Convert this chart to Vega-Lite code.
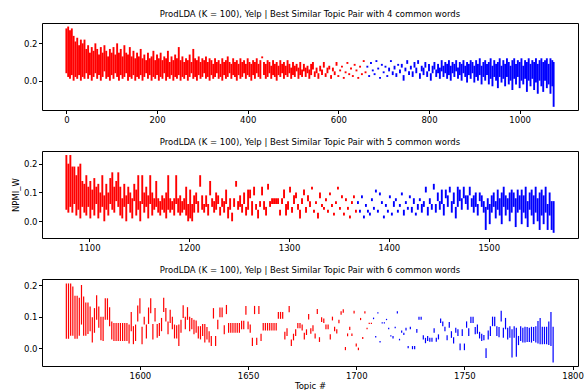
{"$schema":"https://vega.github.io/schema/vega-lite/v6.json","background":"white","padding":{"left":10,"top":9,"right":2,"bottom":0},
"config":{"font":"DejaVu Sans","view":{"stroke":"black","strokeWidth":1},"axis":{"domain":false,"grid":false,"tickColor":"black","labelColor":"black","titleColor":"black","labelFontSize":8.5,"titleFontSize":8.5,"titleFontWeight":"normal","tickSize":3.5,"labelPadding":1.5,"titlePadding":3,"labelFont":"DejaVu Sans","titleFont":"DejaVu Sans"},"title":{"fontSize":8.5,"fontWeight":"normal","font":"DejaVu Sans","color":"black","offset":5},"concat":{"spacing":13}},
"datasets":{"p1":[
{"x":0,"l":0.04,"h":0.28},{"x":4,"l":0.02,"h":0.29},{"x":8,"l":0.01,"h":0.27},{"x":12,"l":0.03,"h":0.28},{"x":16,"l":0.0,"h":0.24},{"x":20,"l":0.02,"h":0.21},{"x":24,"l":0.01,"h":0.23},{"x":28,"l":0.03,"h":0.19},{"x":32,"l":0.0,"h":0.22},{"x":36,"l":0.02,"h":0.2},{"x":40,"l":0.01,"h":0.22},{"x":44,"l":0.04,"h":0.17},{"x":48,"l":0.01,"h":0.19},{"x":52,"l":0.03,"h":0.15},{"x":56,"l":0.0,"h":0.18},{"x":60,"l":0.02,"h":0.16},{"x":64,"l":0.04,"h":0.2},{"x":68,"l":0.01,"h":0.17},{"x":72,"l":0.03,"h":0.14},{"x":76,"l":0.0,"h":0.18},{"x":80,"l":0.02,"h":0.15},{"x":84,"l":0.05,"h":0.19},{"x":88,"l":0.01,"h":0.16},{"x":92,"l":0.02,"h":0.13},{"x":96,"l":0.0,"h":0.17},{"x":100,"l":0.03,"h":0.15},{"x":104,"l":0.01,"h":0.18},{"x":108,"l":0.04,"h":0.14},{"x":112,"l":0.02,"h":0.2},{"x":116,"l":0.0,"h":0.15},{"x":120,"l":0.03,"h":0.17},{"x":124,"l":0.01,"h":0.13},{"x":128,"l":0.02,"h":0.19},{"x":132,"l":0.04,"h":0.15},{"x":136,"l":0.0,"h":0.14},{"x":140,"l":0.02,"h":0.18},{"x":144,"l":0.01,"h":0.13},{"x":148,"l":0.03,"h":0.16},{"x":152,"l":0.0,"h":0.12},{"x":156,"l":0.02,"h":0.15},{"x":160,"l":0.01,"h":0.13},{"x":164,"l":0.03,"h":0.17},{"x":168,"l":0.0,"h":0.12},{"x":172,"l":0.02,"h":0.14},{"x":176,"l":0.04,"h":0.11},{"x":180,"l":0.01,"h":0.15},{"x":184,"l":0.03,"h":0.12},{"x":188,"l":0.0,"h":0.13},{"x":192,"l":0.02,"h":0.16},{"x":196,"l":0.01,"h":0.11},{"x":200,"l":0.03,"h":0.14},{"x":204,"l":0.0,"h":0.12},{"x":208,"l":0.02,"h":0.15},{"x":212,"l":0.01,"h":0.11},{"x":216,"l":0.04,"h":0.13},{"x":220,"l":0.0,"h":0.12},{"x":224,"l":0.02,"h":0.16},{"x":228,"l":0.01,"h":0.1},{"x":232,"l":0.03,"h":0.13},{"x":236,"l":0.0,"h":0.11},{"x":240,"l":0.02,"h":0.14},{"x":244,"l":0.01,"h":0.12},{"x":248,"l":0.03,"h":0.18},{"x":252,"l":0.0,"h":0.11},{"x":256,"l":0.02,"h":0.13},{"x":260,"l":0.01,"h":0.1},{"x":264,"l":0.03,"h":0.12},{"x":268,"l":0.0,"h":0.11},{"x":272,"l":0.02,"h":0.14},{"x":276,"l":0.04,"h":0.1},{"x":280,"l":0.01,"h":0.17},{"x":284,"l":0.02,"h":0.12},{"x":288,"l":0.0,"h":0.11},{"x":292,"l":0.03,"h":0.13},{"x":296,"l":0.01,"h":0.1},{"x":300,"l":0.02,"h":0.12},{"x":304,"l":0.04,"h":0.11},{"x":308,"l":0.01,"h":0.13},{"x":312,"l":0.02,"h":0.1},{"x":316,"l":0.0,"h":0.12},{"x":320,"l":0.03,"h":0.11},{"x":324,"l":0.01,"h":0.09},{"x":328,"l":0.02,"h":0.12},{"x":332,"l":0.04,"h":0.1},{"x":336,"l":0.01,"h":0.11},{"x":340,"l":0.02,"h":0.09},{"x":344,"l":0.0,"h":0.12},{"x":348,"l":0.03,"h":0.1},{"x":352,"l":0.01,"h":0.11},{"x":356,"l":0.02,"h":0.13},{"x":360,"l":0.04,"h":0.1},{"x":364,"l":0.01,"h":0.09},{"x":368,"l":0.03,"h":0.12},{"x":372,"l":0.02,"h":0.1},{"x":376,"l":0.0,"h":0.11},{"x":380,"l":0.03,"h":0.09},{"x":384,"l":0.01,"h":0.12},{"x":388,"l":0.02,"h":0.1},{"x":392,"l":0.04,"h":0.11},{"x":396,"l":0.01,"h":0.09},{"x":400,"l":0.03,"h":0.12},{"x":404,"l":0.02,"h":0.1},{"x":408,"l":0.0,"h":0.09},{"x":412,"l":0.03,"h":0.11},{"x":416,"l":0.01,"h":0.1},{"x":420,"l":0.04,"h":0.12},{"x":424,"l":0.02,"h":0.09},{"x":428,"l":0.01,"h":0.11},{"x":432,"l":0.12,"h":0.13},{"x":436,"l":0.03,"h":0.1},{"x":440,"l":0.01,"h":0.09},{"x":444,"l":0.02,"h":0.11},{"x":448,"l":0.04,"h":0.1},{"x":452,"l":0.01,"h":0.08},{"x":456,"l":0.03,"h":0.11},{"x":460,"l":0.02,"h":0.09},{"x":464,"l":0.0,"h":0.1},{"x":468,"l":0.03,"h":0.08},{"x":472,"l":0.02,"h":0.11},{"x":476,"l":0.04,"h":0.09},{"x":480,"l":0.01,"h":0.1},{"x":484,"l":0.03,"h":0.08},{"x":488,"l":0.02,"h":0.11},{"x":492,"l":0.04,"h":0.09},{"x":496,"l":0.01,"h":0.07},{"x":500,"l":0.03,"h":0.1},{"x":504,"l":0.02,"h":0.08},{"x":508,"l":0.05,"h":0.09},{"x":512,"l":0.01,"h":0.07},{"x":516,"l":0.03,"h":0.1},{"x":520,"l":0.02,"h":0.06},{"x":524,"l":0.05,"h":0.09},{"x":528,"l":0.02,"h":0.07},{"x":532,"l":0.04,"h":0.08},{"x":536,"l":0.01,"h":0.06},{"x":540,"l":0.03,"h":0.09},{"x":544,"l":0.06,"h":0.1},{"x":548,"l":0.02,"h":0.05},{"x":552,"l":0.04,"h":0.07},{"x":556,"l":0.01,"h":0.04},{"x":560,"l":0.05,"h":0.08},{"x":564,"l":0.03,"h":0.06},{"x":568,"l":0.07,"h":0.1},{"x":572,"l":0.02,"h":0.04},{"x":576,"l":0.04,"h":0.07},{"x":580,"l":0.06,"h":0.08},{"x":584,"l":0.01,"h":0.03},{"x":588,"l":0.05,"h":0.07},{"x":592,"l":0.03,"h":0.05},{"x":596,"l":0.08,"h":0.1},{"x":600,"l":0.02,"h":0.03},{"x":604,"l":0.05,"h":0.06},{"x":608,"l":0.07,"h":0.08},{"x":612,"l":0.01,"h":0.02},{"x":616,"l":0.04,"h":0.05},{"x":620,"l":0.09,"h":0.1},{"x":624,"l":0.03,"h":0.04},{"x":628,"l":0.06,"h":0.07},{"x":632,"l":0.02,"h":0.03},{"x":636,"l":0.08,"h":0.09},{"x":640,"l":0.05,"h":0.06},{"x":644,"l":0.01,"h":0.02},{"x":648,"l":0.07,"h":0.08},{"x":652,"l":0.03,"h":0.04},{"x":656,"l":0.1,"h":0.11},{"x":660,"l":0.04,"h":0.05},
{"x":664,"l":0.07,"h":0.08},{"x":668,"l":0.02,"h":0.03},{"x":672,"l":0.09,"h":0.1},{"x":676,"l":0.05,"h":0.06},{"x":680,"l":0.03,"h":0.04},{"x":684,"l":0.1,"h":0.11},{"x":688,"l":0.06,"h":0.07},{"x":692,"l":0.01,"h":0.02},{"x":696,"l":0.08,"h":0.09},{"x":700,"l":0.04,"h":0.05},{"x":704,"l":0.07,"h":0.08},{"x":708,"l":0.02,"h":0.03},{"x":712,"l":0.05,"h":0.07},{"x":716,"l":0.1,"h":0.11},{"x":720,"l":0.03,"h":0.05},{"x":724,"l":0.06,"h":0.08},{"x":728,"l":0.02,"h":0.04},{"x":732,"l":0.08,"h":0.09},{"x":736,"l":0.04,"h":0.06},{"x":740,"l":0.07,"h":0.09},{"x":744,"l":0.0,"h":0.03},{"x":748,"l":0.05,"h":0.07},{"x":752,"l":0.09,"h":0.11},{"x":756,"l":0.03,"h":0.05},{"x":760,"l":0.06,"h":0.08},{"x":764,"l":0.02,"h":0.05},{"x":768,"l":0.07,"h":0.1},{"x":772,"l":0.04,"h":0.07},{"x":776,"l":0.09,"h":0.11},{"x":780,"l":0.01,"h":0.04},{"x":784,"l":0.05,"h":0.08},{"x":788,"l":0.03,"h":0.07},{"x":792,"l":0.07,"h":0.1},{"x":796,"l":0.02,"h":0.05},{"x":800,"l":0.05,"h":0.09},{"x":804,"l":0.0,"h":0.04},{"x":808,"l":0.04,"h":0.08},{"x":812,"l":0.06,"h":0.1},{"x":816,"l":0.02,"h":0.06},{"x":820,"l":0.04,"h":0.09},{"x":824,"l":0.01,"h":0.07},{"x":828,"l":0.05,"h":0.11},{"x":832,"l":0.02,"h":0.08},{"x":836,"l":0.04,"h":0.1},{"x":840,"l":0.01,"h":0.09},{"x":844,"l":0.03,"h":0.11},{"x":848,"l":0.0,"h":0.08},{"x":852,"l":0.04,"h":0.1},{"x":856,"l":0.02,"h":0.09},{"x":860,"l":0.05,"h":0.11},{"x":864,"l":0.01,"h":0.07},{"x":868,"l":0.03,"h":0.1},{"x":872,"l":0.0,"h":0.09},{"x":876,"l":0.04,"h":0.11},{"x":880,"l":0.02,"h":0.08},{"x":884,"l":-0.01,"h":0.1},{"x":888,"l":0.03,"h":0.09},{"x":892,"l":0.01,"h":0.11},{"x":896,"l":0.04,"h":0.1},{"x":900,"l":-0.01,"h":0.08},{"x":904,"l":0.02,"h":0.11},{"x":908,"l":0.0,"h":0.09},{"x":912,"l":0.03,"h":0.12},{"x":916,"l":-0.02,"h":0.08},{"x":920,"l":0.02,"h":0.1},{"x":924,"l":0.0,"h":0.11},{"x":928,"l":0.03,"h":0.09},{"x":932,"l":-0.02,"h":0.1},{"x":936,"l":0.01,"h":0.12},{"x":940,"l":-0.03,"h":0.08},{"x":944,"l":0.02,"h":0.11},{"x":948,"l":0.0,"h":0.09},{"x":952,"l":-0.04,"h":0.1},{"x":956,"l":0.02,"h":0.12},{"x":960,"l":-0.01,"h":0.08},{"x":964,"l":0.01,"h":0.11},{"x":968,"l":-0.03,"h":0.09},{"x":972,"l":0.02,"h":0.12},{"x":976,"l":-0.02,"h":0.1},{"x":980,"l":0.0,"h":0.08},{"x":984,"l":-0.05,"h":0.11},{"x":988,"l":0.01,"h":0.12},{"x":992,"l":-0.02,"h":0.09},{"x":996,"l":0.02,"h":0.11},{"x":1000,"l":-0.04,"h":0.1},{"x":1004,"l":0.0,"h":0.12},{"x":1008,"l":-0.02,"h":0.08},{"x":1012,"l":0.01,"h":0.11},{"x":1016,"l":-0.06,"h":0.1},{"x":1020,"l":0.0,"h":0.12},{"x":1024,"l":-0.03,"h":0.09},{"x":1028,"l":0.01,"h":0.11},{"x":1032,"l":-0.05,"h":0.1},{"x":1036,"l":-0.01,"h":0.12},{"x":1040,"l":-0.07,"h":0.09},{"x":1044,"l":0.0,"h":0.11},{"x":1048,"l":-0.03,"h":0.12},{"x":1052,"l":-0.06,"h":0.1},{"x":1056,"l":0.0,"h":0.11},{"x":1060,"l":-0.04,"h":0.12},{"x":1064,"l":-0.02,"h":0.09},{"x":1068,"l":-0.07,"h":0.12},{"x":1072,"l":-0.03,"h":0.11},{"x":1075,"l":-0.14,"h":0.1}],
"p2":[
{"x":1077,"l":0.04,"h":0.23},{"x":1079,"l":0.03,"h":0.2},{"x":1081,"l":0.05,"h":0.23},{"x":1083,"l":0.03,"h":0.19},{"x":1085,"l":0.06,"h":0.19},{"x":1087,"l":0.02,"h":0.16},{"x":1089,"l":0.04,"h":0.19},{"x":1091,"l":0.01,"h":0.2},{"x":1093,"l":0.05,"h":0.14},{"x":1095,"l":0.03,"h":0.13},{"x":1097,"l":0.02,"h":0.16},{"x":1099,"l":0.05,"h":0.12},{"x":1101,"l":0.01,"h":0.14},{"x":1103,"l":0.04,"h":0.11},{"x":1105,"l":0.02,"h":0.15},{"x":1107,"l":0.06,"h":0.12},{"x":1109,"l":0.01,"h":0.13},{"x":1111,"l":0.03,"h":0.1},{"x":1113,"l":0.05,"h":0.16},{"x":1115,"l":0.0,"h":0.09},{"x":1117,"l":0.04,"h":0.13},{"x":1119,"l":0.02,"h":0.1},{"x":1121,"l":0.06,"h":0.15},{"x":1123,"l":0.04,"h":0.17},{"x":1125,"l":0.03,"h":0.12},{"x":1127,"l":0.07,"h":0.14},{"x":1129,"l":0.05,"h":0.17},{"x":1131,"l":0.02,"h":0.12},{"x":1133,"l":0.01,"h":0.08},{"x":1135,"l":0.05,"h":0.13},{"x":1137,"l":0.0,"h":0.09},{"x":1139,"l":0.06,"h":0.12},{"x":1141,"l":0.03,"h":0.1},{"x":1143,"l":0.01,"h":0.08},{"x":1145,"l":0.07,"h":0.13},{"x":1147,"l":0.02,"h":0.11},{"x":1149,"l":0.04,"h":0.16},{"x":1151,"l":0.0,"h":0.07},{"x":1153,"l":0.06,"h":0.16},{"x":1155,"l":0.03,"h":0.1},{"x":1157,"l":0.05,"h":0.12},{"x":1159,"l":0.01,"h":0.09},{"x":1161,"l":0.06,"h":0.16},{"x":1163,"l":0.02,"h":0.1},{"x":1165,"l":0.04,"h":0.08},{"x":1167,"l":0.05,"h":0.14},{"x":1169,"l":0.03,"h":0.08},{"x":1171,"l":0.02,"h":0.07},{"x":1173,"l":0.04,"h":0.09},{"x":1175,"l":0.03,"h":0.08},{"x":1177,"l":0.01,"h":0.1},{"x":1179,"l":0.04,"h":0.16},{"x":1181,"l":0.03,"h":0.08},{"x":1183,"l":0.04,"h":0.07},{"x":1185,"l":0.02,"h":0.08},{"x":1187,"l":0.06,"h":0.16},{"x":1189,"l":0.03,"h":0.08},{"x":1191,"l":0.02,"h":0.09},{"x":1193,"l":0.03,"h":0.07},{"x":1195,"l":0.04,"h":0.08},{"x":1197,"l":0.02,"h":0.12},{"x":1199,"l":0.0,"h":0.06},{"x":1201,"l":0.01,"h":0.11},{"x":1203,"l":0.0,"h":0.06},{"x":1205,"l":0.03,"h":0.09},{"x":1207,"l":0.06,"h":0.1},{"x":1209,"l":0.03,"h":0.07},{"x":1211,"l":0.12,"h":0.16},{"x":1213,"l":0.04,"h":0.09},{"x":1215,"l":0.03,"h":0.06},{"x":1217,"l":0.05,"h":0.09},{"x":1219,"l":0.02,"h":0.06},{"x":1221,"l":0.09,"h":0.14},{"x":1223,"l":0.05,"h":0.08},{"x":1225,"l":0.03,"h":0.07},{"x":1227,"l":0.04,"h":0.1},{"x":1229,"l":0.06,"h":0.09},{"x":1231,"l":0.02,"h":0.05},{"x":1233,"l":0.05,"h":0.08},{"x":1235,"l":0.03,"h":0.07},{"x":1237,"l":0.06,"h":0.11},{"x":1239,"l":0.01,"h":0.05},{"x":1241,"l":0.04,"h":0.08},{"x":1243,"l":0.0,"h":0.03},{"x":1245,"l":0.05,"h":0.08},{"x":1247,"l":0.12,"h":0.14},{"x":1249,"l":0.04,"h":0.07},{"x":1251,"l":0.05,"h":0.09},{"x":1253,"l":0.03,"h":0.06},{"x":1255,"l":0.06,"h":0.1},{"x":1257,"l":0.02,"h":0.05},{"x":1259,"l":0.04,"h":0.11},{"x":1261,"l":0.08,"h":0.11},{"x":1263,"l":0.02,"h":0.07},{"x":1265,"l":0.09,"h":0.12},{"x":1267,"l":0.04,"h":0.06},{"x":1269,"l":0.01,"h":0.04},{"x":1271,"l":0.05,"h":0.07},{"x":1273,"l":0.09,"h":0.12},{"x":1275,"l":0.04,"h":0.07},{"x":1277,"l":0.02,"h":0.05},{"x":1279,"l":0.11,"h":0.13},{"x":1281,"l":0.05,"h":0.07},{"x":1283,"l":0.06,"h":0.08},{"x":1285,"l":0.06,"h":0.08},{"x":1287,"l":0.06,"h":0.08},{"x":1289,"l":0.06,"h":0.08},{"x":1291,"l":0.02,"h":0.04},{"x":1293,"l":0.06,"h":0.08},{"x":1295,"l":0.08,"h":0.11},{"x":1297,"l":0.02,"h":0.06},{"x":1299,"l":0.04,"h":0.07},{"x":1301,"l":0.1,"h":0.12},{"x":1303,"l":0.03,"h":0.05},{"x":1305,"l":0.06,"h":0.09},{"x":1307,"l":0.08,"h":0.1},{"x":1309,"l":0.04,"h":0.06},{"x":1311,"l":0.01,"h":0.04},{"x":1313,"l":0.06,"h":0.08},{"x":1315,"l":0.09,"h":0.11},{"x":1317,"l":0.03,"h":0.05},{"x":1319,"l":0.07,"h":0.09},{"x":1321,"l":0.05,"h":0.07},{"x":1323,"l":0.11,"h":0.12},{"x":1325,"l":0.03,"h":0.04},{"x":1327,"l":0.06,"h":0.07},{"x":1329,"l":0.01,"h":0.03},{"x":1331,"l":0.08,"h":0.1},{"x":1333,"l":0.05,"h":0.06},{"x":1335,"l":0.04,"h":0.05},{"x":1337,"l":0.07,"h":0.08},{"x":1339,"l":0.03,"h":0.04},{"x":1341,"l":0.09,"h":0.1},{"x":1343,"l":0.05,"h":0.06},{"x":1345,"l":0.02,"h":0.03},{"x":1347,"l":0.06,"h":0.07},{"x":1349,"l":0.11,"h":0.12},{"x":1351,"l":0.04,"h":0.05},{"x":1353,"l":0.08,"h":0.09},{"x":1355,"l":0.02,"h":0.03},{"x":1357,"l":0.07,"h":0.08},{"x":1359,"l":0.04,"h":0.05},{"x":1361,"l":0.01,"h":0.02},{"x":1363,"l":0.06,"h":0.07},{"x":1365,"l":0.08,"h":0.09},{"x":1367,"l":0.03,"h":0.04},
{"x":1369,"l":0.06,"h":0.07},{"x":1371,"l":0.03,"h":0.04},{"x":1373,"l":0.08,"h":0.09},{"x":1375,"l":0.01,"h":0.02},{"x":1377,"l":0.05,"h":0.06},{"x":1379,"l":0.03,"h":0.04},{"x":1381,"l":0.02,"h":0.03},{"x":1383,"l":0.07,"h":0.08},{"x":1385,"l":0.04,"h":0.05},{"x":1387,"l":0.1,"h":0.11},{"x":1389,"l":0.03,"h":0.04},{"x":1391,"l":0.09,"h":0.1},{"x":1393,"l":0.06,"h":0.07},{"x":1395,"l":0.01,"h":0.02},{"x":1397,"l":0.05,"h":0.06},{"x":1399,"l":0.03,"h":0.04},{"x":1401,"l":0.08,"h":0.09},{"x":1403,"l":0.02,"h":0.03},{"x":1405,"l":0.05,"h":0.07},{"x":1407,"l":0.07,"h":0.08},{"x":1409,"l":0.03,"h":0.04},{"x":1411,"l":0.05,"h":0.06},{"x":1413,"l":0.09,"h":0.1},{"x":1415,"l":0.02,"h":0.04},{"x":1417,"l":0.06,"h":0.07},{"x":1419,"l":0.04,"h":0.05},{"x":1421,"l":0.08,"h":0.09},{"x":1423,"l":0.03,"h":0.05},{"x":1425,"l":0.06,"h":0.08},{"x":1427,"l":0.02,"h":0.03},{"x":1429,"l":0.04,"h":0.06},{"x":1431,"l":0.07,"h":0.08},{"x":1433,"l":0.03,"h":0.06},{"x":1435,"l":0.05,"h":0.07},{"x":1437,"l":0.1,"h":0.12},{"x":1439,"l":0.02,"h":0.05},{"x":1441,"l":0.06,"h":0.08},{"x":1443,"l":0.04,"h":0.06},{"x":1445,"l":0.11,"h":0.13},{"x":1447,"l":0.03,"h":0.06},{"x":1449,"l":0.07,"h":0.1},{"x":1451,"l":0.04,"h":0.07},{"x":1453,"l":0.06,"h":0.11},{"x":1455,"l":0.02,"h":0.06},{"x":1457,"l":0.08,"h":0.11},{"x":1459,"l":0.05,"h":0.09},{"x":1461,"l":0.1,"h":0.12},{"x":1463,"l":0.03,"h":0.07},{"x":1465,"l":0.06,"h":0.1},{"x":1467,"l":0.01,"h":0.05},{"x":1469,"l":0.05,"h":0.12},{"x":1471,"l":0.07,"h":0.11},{"x":1473,"l":0.04,"h":0.08},{"x":1475,"l":0.08,"h":0.12},{"x":1477,"l":0.06,"h":0.09},{"x":1479,"l":0.04,"h":0.09},{"x":1481,"l":0.09,"h":0.12},{"x":1483,"l":0.05,"h":0.08},{"x":1485,"l":0.03,"h":0.09},{"x":1487,"l":0.05,"h":0.1},{"x":1489,"l":0.02,"h":0.06},{"x":1491,"l":0.07,"h":0.1},{"x":1493,"l":0.05,"h":0.09},{"x":1495,"l":0.03,"h":0.07},{"x":1497,"l":-0.03,"h":0.05},{"x":1499,"l":0.04,"h":0.08},{"x":1501,"l":-0.01,"h":0.06},{"x":1503,"l":0.03,"h":0.09},{"x":1505,"l":0.05,"h":0.1},{"x":1507,"l":0.01,"h":0.07},{"x":1509,"l":0.04,"h":0.11},{"x":1511,"l":0.02,"h":0.08},{"x":1513,"l":-0.01,"h":0.1},{"x":1515,"l":0.05,"h":0.12},{"x":1517,"l":0.02,"h":0.09},{"x":1519,"l":0.04,"h":0.08},{"x":1521,"l":0.0,"h":0.1},{"x":1523,"l":0.03,"h":0.11},{"x":1525,"l":0.05,"h":0.1},{"x":1527,"l":-0.02,"h":0.08},{"x":1529,"l":0.03,"h":0.11},{"x":1531,"l":0.04,"h":0.09},{"x":1533,"l":-0.01,"h":0.11},{"x":1535,"l":0.03,"h":0.09},{"x":1537,"l":0.01,"h":0.12},{"x":1539,"l":-0.02,"h":0.07},{"x":1541,"l":0.04,"h":0.1},{"x":1543,"l":0.02,"h":0.11},{"x":1545,"l":-0.01,"h":0.09},{"x":1547,"l":0.03,"h":0.12},{"x":1549,"l":0.0,"h":0.08},{"x":1551,"l":-0.03,"h":0.1},{"x":1553,"l":0.02,"h":0.11},{"x":1555,"l":-0.01,"h":0.09},{"x":1557,"l":0.03,"h":0.12},{"x":1559,"l":-0.03,"h":0.06},{"x":1561,"l":0.02,"h":0.1},{"x":1563,"l":-0.03,"h":0.07},{"x":1565,"l":-0.04,"h":0.07}],
"p3":[
{"x":1566,"l":0.03,"h":0.205},{"x":1567,"l":0.03,"h":0.205},{"x":1568,"l":0.04,"h":0.205},{"x":1569,"l":0.04,"h":0.195},{"x":1570,"l":0.03,"h":0.166},{"x":1571,"l":0.03,"h":0.166},{"x":1572,"l":0.04,"h":0.16},{"x":1573,"l":0.075,"h":0.2},{"x":1574,"l":0.04,"h":0.164},{"x":1575,"l":0.04,"h":0.145},{"x":1576,"l":0.045,"h":0.145},{"x":1577,"l":0.054,"h":0.132},{"x":1578,"l":0.018,"h":0.098},{"x":1579,"l":0.049,"h":0.127},{"x":1580,"l":0.09,"h":0.168},{"x":1581,"l":0.065,"h":0.132},{"x":1582,"l":0.025,"h":0.1},{"x":1583,"l":0.023,"h":0.1},{"x":1584,"l":0.09,"h":0.158},{"x":1585,"l":0.09,"h":0.158},{"x":1586,"l":0.07,"h":0.13},{"x":1587,"l":0.028,"h":0.085},{"x":1588,"l":0.023,"h":0.08},{"x":1589,"l":0.023,"h":0.08},{"x":1590,"l":0.023,"h":0.08},{"x":1591,"l":0.023,"h":0.08},{"x":1592,"l":0.023,"h":0.08},{"x":1593,"l":0.023,"h":0.08},{"x":1594,"l":0.023,"h":0.08},{"x":1595,"l":0.015,"h":0.075},{"x":1596,"l":0.054,"h":0.115},{"x":1597,"l":0.013,"h":0.07},{"x":1598,"l":0.023,"h":0.075},{"x":1599,"l":0.085,"h":0.135},{"x":1600,"l":0.11,"h":0.158},{"x":1601,"l":0.013,"h":0.068},{"x":1602,"l":0.075,"h":0.1},{"x":1603,"l":0.031,"h":0.075},{"x":1604,"l":0.077,"h":0.129},{"x":1605,"l":0.111,"h":0.158},{"x":1606,"l":0.028,"h":0.077},{"x":1607,"l":0.085,"h":0.127},{"x":1608,"l":0.033,"h":0.077},{"x":1609,"l":0.039,"h":0.08},{"x":1610,"l":0.054,"h":0.096},{"x":1611,"l":0.115,"h":0.16},{"x":1612,"l":0.085,"h":0.127},{"x":1613,"l":0.044,"h":0.085},{"x":1614,"l":0.08,"h":0.122},{"x":1615,"l":0.06,"h":0.1},{"x":1616,"l":0.031,"h":0.075},{"x":1617,"l":0.031,"h":0.073},{"x":1618,"l":0.007,"h":0.075},{"x":1619,"l":0.049,"h":0.09},{"x":1620,"l":0.096,"h":0.136},{"x":1621,"l":0.06,"h":0.1},{"x":1622,"l":0.09,"h":0.13},{"x":1623,"l":0.054,"h":0.1},{"x":1624,"l":0.06,"h":0.096},{"x":1625,"l":0.044,"h":0.09},{"x":1626,"l":0.049,"h":0.088},{"x":1627,"l":0.031,"h":0.07},{"x":1628,"l":0.028,"h":0.07},{"x":1629,"l":0.039,"h":0.077},{"x":1630,"l":0.018,"h":0.077},{"x":1631,"l":0.028,"h":0.067},{"x":1632,"l":0.018,"h":0.054},{"x":1633,"l":0.007,"h":0.039},{"x":1634,"l":0.094,"h":0.127},{"x":1635,"l":0.007,"h":0.039},{"x":1636,"l":0.06,"h":0.09},{"x":1637,"l":0.098,"h":0.129},{"x":1638,"l":0.098,"h":0.129},{"x":1639,"l":0.044,"h":0.073},{"x":1640,"l":0.108,"h":0.137},{"x":1641,"l":0.049,"h":0.08},{"x":1642,"l":0.049,"h":0.08},{"x":1643,"l":0.049,"h":0.08},{"x":1644,"l":0.049,"h":0.08},{"x":1645,"l":0.049,"h":0.08},{"x":1646,"l":0.049,"h":0.08},{"x":1647,"l":0.06,"h":0.087},{"x":1648,"l":0.06,"h":0.087},{"x":1649,"l":0.106,"h":0.134},{"x":1650,"l":0.06,"h":0.085},{"x":1651,"l":0.049,"h":0.075},{"x":1652,"l":0.007,"h":0.033},{"x":1653,"l":0.108,"h":0.134},{"x":1654,"l":0.01,"h":0.033},{"x":1655,"l":0.108,"h":0.134},{"x":1656,"l":0.023,"h":0.046},{"x":1657,"l":0.056,"h":0.08},{"x":1658,"l":0.056,"h":0.08},{"x":1659,"l":0.056,"h":0.08},{"x":1660,"l":0.056,"h":0.08},{"x":1661,"l":0.056,"h":0.08},{"x":1662,"l":0.056,"h":0.08},{"x":1663,"l":0.056,"h":0.08},{"x":1664,"l":0.093,"h":0.115},{"x":1665,"l":0.093,"h":0.115},{"x":1666,"l":0.093,"h":0.115},{"x":1667,"l":0.028,"h":0.052},{"x":1668,"l":0.039,"h":0.063},{"x":1669,"l":0.114,"h":0.134},{"x":1670,"l":0.007,"h":0.028},{"x":1671,"l":0.025,"h":0.046},{"x":1672,"l":0.039,"h":0.06},{"x":1673,"l":0.063,"h":0.08},{"x":1674,"l":0.063,"h":0.08},{"x":1675,"l":0.056,"h":0.075},{"x":1676,"l":0.028,"h":0.049},{"x":1677,"l":0.042,"h":0.06},{"x":1678,"l":0.091,"h":0.108},{"x":1679,"l":0.046,"h":0.063},{"x":1680,"l":0.054,"h":0.073},{"x":1681,"l":0.031,"h":0.047},{"x":1682,"l":0.108,"h":0.124},{"x":1683,"l":0.02,"h":0.035},{"x":1684,"l":0.083,"h":0.098},{"x":1685,"l":0.08,"h":0.094},{"x":1686,"l":0.06,"h":0.075},{"x":1687,"l":0.06,"h":0.075},{"x":1688,"l":0.028,"h":0.044},{"x":1689,"l":0.088,"h":0.1},{"x":1690,"l":0.054,"h":0.068},{"x":1691,"l":0.047,"h":0.06},{"x":1692,"l":0.079,"h":0.09},{"x":1693,"l":0.106,"h":0.117},{"x":1694,"l":0.112,"h":0.123},{"x":1695,"l":-0.006,"h":0.004},{"x":1696,"l":0.038,"h":0.047},{"x":1697,"l":0.058,"h":0.068},{"x":1698,"l":0.039,"h":0.047},{"x":1699,"l":0.11,"h":0.119},{"x":1700,"l":0.006,"h":0.015},{"x":1701,"l":-0.006,"h":0.002},{"x":1702,"l":0.089,"h":0.096},{"x":1703,"l":0.029,"h":0.036},{"x":1704,"l":0.11,"h":0.117},{"x":1705,"l":0.06,"h":0.065},{"x":1706,"l":0.077,"h":0.081},{"x":1707,"l":0.077,"h":0.081},
{"x":1708,"l":0.092,"h":0.097},{"x":1709,"l":0.034,"h":0.039},{"x":1710,"l":0.11,"h":0.114},{"x":1711,"l":0.018,"h":0.023},{"x":1712,"l":0.078,"h":0.082},{"x":1713,"l":0.078,"h":0.082},{"x":1714,"l":0.089,"h":0.093},{"x":1715,"l":0.06,"h":0.065},{"x":1716,"l":0.037,"h":0.041},{"x":1717,"l":0.031,"h":0.039},{"x":1718,"l":0.063,"h":0.068},{"x":1719,"l":0.11,"h":0.117},{"x":1720,"l":0.025,"h":0.03},{"x":1721,"l":0.049,"h":0.056},{"x":1722,"l":0.042,"h":0.049},{"x":1723,"l":0.056,"h":0.065},{"x":1724,"l":0.0,"h":0.007},{"x":1725,"l":0.06,"h":0.068},{"x":1726,"l":-0.003,"h":0.007},{"x":1727,"l":-0.003,"h":0.007},{"x":1728,"l":0.049,"h":0.061},{"x":1729,"l":0.09,"h":0.1},{"x":1730,"l":0.09,"h":0.1},{"x":1731,"l":0.028,"h":0.041},{"x":1732,"l":0.016,"h":0.033},{"x":1733,"l":0.023,"h":0.039},{"x":1734,"l":0.021,"h":0.033},{"x":1735,"l":0.021,"h":0.033},{"x":1736,"l":0.049,"h":0.063},{"x":1737,"l":0.021,"h":0.033},{"x":1738,"l":0.028,"h":0.044},{"x":1739,"l":0.08,"h":0.094},{"x":1740,"l":0.07,"h":0.085},{"x":1741,"l":0.054,"h":0.068},{"x":1742,"l":0.025,"h":0.041},{"x":1743,"l":0.065,"h":0.083},{"x":1744,"l":0.033,"h":0.054},{"x":1745,"l":0.015,"h":0.035},{"x":1746,"l":0.049,"h":0.065},{"x":1747,"l":0.039,"h":0.06},{"x":1748,"l":-0.006,"h":0.015},{"x":1749,"l":0.039,"h":0.06},{"x":1750,"l":-0.006,"h":0.015},{"x":1751,"l":0.065,"h":0.085},{"x":1752,"l":0.039,"h":0.063},{"x":1753,"l":0.08,"h":0.1},{"x":1754,"l":0.08,"h":0.1},{"x":1755,"l":0.044,"h":0.067},{"x":1756,"l":0.046,"h":0.075},{"x":1757,"l":0.031,"h":0.052},{"x":1758,"l":0.023,"h":0.046},{"x":1759,"l":0.025,"h":0.042},{"x":1760,"l":-0.031,"h":0.0},{"x":1761,"l":0.028,"h":0.056},{"x":1762,"l":0.039,"h":0.07},{"x":1763,"l":0.07,"h":0.1},{"x":1764,"l":0.07,"h":0.1},{"x":1765,"l":0.039,"h":0.07},{"x":1766,"l":0.035,"h":0.067},{"x":1767,"l":0.085,"h":0.119},{"x":1768,"l":0.033,"h":0.065},{"x":1769,"l":0.06,"h":0.096},{"x":1770,"l":0.028,"h":0.065},{"x":1771,"l":0.033,"h":0.07},{"x":1772,"l":-0.029,"h":0.06},{"x":1773,"l":0.033,"h":0.07},{"x":1774,"l":-0.027,"h":0.065},{"x":1775,"l":0.01,"h":0.039},{"x":1776,"l":0.023,"h":0.07},{"x":1777,"l":0.018,"h":0.065},{"x":1778,"l":0.018,"h":0.068},{"x":1779,"l":0.02,"h":0.067},{"x":1780,"l":0.02,"h":0.065},{"x":1781,"l":0.018,"h":0.068},{"x":1782,"l":0.023,"h":0.067},{"x":1783,"l":0.018,"h":0.07},{"x":1784,"l":0.015,"h":0.086},{"x":1785,"l":0.013,"h":0.096},{"x":1786,"l":0.013,"h":0.068},{"x":1787,"l":0.013,"h":0.068},{"x":1788,"l":0.013,"h":0.068},{"x":1789,"l":0.01,"h":0.085},{"x":1790,"l":0.007,"h":0.115},{"x":1791,"l":-0.045,"h":0.068}]},
"vconcat":[
{"title":"ProdLDA (K = 100), Yelp | Best Similar Topic Pair with 4 common words","width":536,"height":87,"data":{"name":"p1"},"mark":{"type":"rule","strokeWidth":1.9},
"encoding":{"x":{"field":"x","type":"quantitative","scale":{"domain":[-53.75,1128.75],"nice":false,"zero":false},"axis":{"title":null,"values":[0,200,400,600,800,1000],"format":"d"}},
"y":{"field":"l","type":"quantitative","scale":{"domain":[-0.157,0.309],"nice":false,"zero":false},"axis":{"title":null,"values":[0,0.2],"format":".1f"}},"y2":{"field":"h"},
"color":{"condition":{"test":"datum.x < 664","value":"#ff0000"},"value":"#0000ff"}}},
{"title":"ProdLDA (K = 100), Yelp | Best Similar Topic Pair with 5 common words","width":536,"height":87,"data":{"name":"p2"},"mark":{"type":"rule","strokeWidth":1.9},
"encoding":{"x":{"field":"x","type":"quantitative","scale":{"domain":[1052.6,1589.4],"nice":false,"zero":false},"axis":{"title":null,"values":[1100,1200,1300,1400,1500],"format":"d"}},
"y":{"field":"l","type":"quantitative","scale":{"domain":[-0.058,0.244],"nice":false,"zero":false},"axis":{"title":"NPMI_W","values":[0,0.1,0.2],"format":".1f"}},"y2":{"field":"h"},
"color":{"condition":{"test":"datum.x < 1368","value":"#ff0000"},"value":"#0000ff"}}},
{"title":"ProdLDA (K = 100), Yelp | Best Similar Topic Pair with 6 common words","width":536,"height":87,"data":{"name":"p3"},"mark":{"type":"rule","strokeWidth":1.2},
"encoding":{"x":{"field":"x","type":"quantitative","scale":{"domain":[1554.75,1802.5],"nice":false,"zero":false},"axis":{"title":"Topic #","titlePadding":2,"values":[1600,1650,1700,1750,1800],"format":"d"}},
"y":{"field":"l","type":"quantitative","scale":{"domain":[-0.056,0.219],"nice":false,"zero":false},"axis":{"title":null,"values":[0,0.1,0.2],"format":".1f"}},"y2":{"field":"h"},
"color":{"condition":{"test":"datum.x < 1708","value":"#ff0000"},"value":"#0000ff"}}}
]}
